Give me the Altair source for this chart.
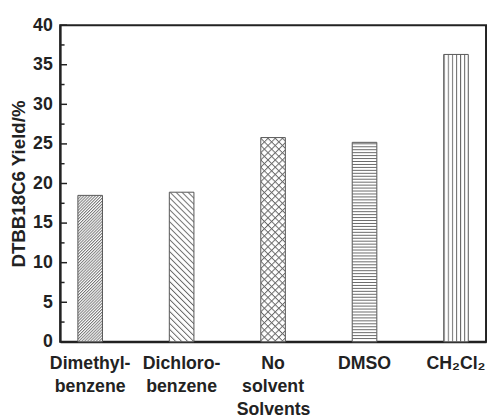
import urllib.parse
import altair as alt
import pandas as pd

# ---- data ----
categories = ["Dimethyl-\nbenzene", "Dichloro-\nbenzene", "No\nsolvent", "DMSO", "CH₂Cl₂"]
yields = [18.5, 18.9, 25.8, 25.2, 36.3]
y_major = [0, 5, 10, 15, 20, 25, 30, 35, 40]
y_minor = [2.5, 7.5, 12.5, 17.5, 22.5, 27.5, 32.5, 37.5]

# ---- hatch styles (SVG patterns used as image fills) ----
LINE = "#6a6a6a"


def hatch(inner, w, h, transform=""):
    t = f" patternTransform='{transform}'" if transform else ""
    svg = (
        "<svg xmlns='http://www.w3.org/2000/svg' width='100%' height='100%'>"
        f"<defs><pattern id='h' patternUnits='userSpaceOnUse' width='{w}' height='{h}'{t}>"
        f"{inner}</pattern></defs>"
        "<rect width='100%' height='100%' fill='white'/>"
        "<rect width='100%' height='100%' fill='url(#h)'/></svg>"
    )
    return "data:image/svg+xml;charset=utf-8," + urllib.parse.quote(svg)


def vline(x, h, sw):
    return f"<line x1='{x}' y1='-1' x2='{x}' y2='{h + 1}' stroke='{LINE}' stroke-width='{sw}'/>"


def hline(y, w, sw):
    return f"<line x1='-1' y1='{y}' x2='{w + 1}' y2='{y}' stroke='{LINE}' stroke-width='{sw}'/>"


PATTERNS = [
    hatch(vline(0.5, 2.1, 0.9), 2.1, 2.1, "rotate(45)"),
    hatch(vline(0.5, 4.3, 1), 4.3, 4.3, "rotate(-45)"),
    hatch(vline(0.5, 5.2, 1) + hline(0.5, 5.2, 1), 5.2, 5.2, "rotate(45)"),
    hatch(hline(1.5, 4, 1), 4, 3),
    hatch(vline(0.5, 4, 1), 4.17, 4),
]

df = pd.DataFrame({"solvent": categories, "yield": yields, "pattern": PATTERNS})
major_df = pd.DataFrame({"yield": y_major})
minor_df = pd.DataFrame({"yield": y_minor})

INK = "#222222"
FONT = "Liberation Sans"

x_enc = alt.X(
    "solvent:N",
    sort=categories,
    scale=alt.Scale(paddingInner=0.731, paddingOuter=0.194),
    axis=alt.Axis(
        title="Solvents",
        labelExpr="split(datum.label, '\\n')",
        labelAngle=0,
        ticks=False,
        tickSize=0,
        labelPadding=13,
        labelLineHeight=23,
        titlePadding=6,
    ),
)
y_scale = alt.Scale(domain=[0, 40], nice=False, zero=True)
y_axis = alt.Axis(
    values=y_major,
    title="DTBB18C6 Yield/%",
    ticks=False,
    tickSize=0,
    labelPadding=8,
    titlePadding=4,
    titleFontSize=19,
)
y_enc = alt.Y("yield:Q", scale=y_scale, axis=y_axis)

fills = alt.Chart(df).mark_image(aspect=False).encode(
    x=x_enc, y=y_enc, y2=alt.datum(0), url="pattern:N"
)
outlines = alt.Chart(df).mark_bar(fillOpacity=0, stroke="#555555", strokeWidth=1).encode(
    x=x_enc, y=y_enc
)
major_ticks = alt.Chart(major_df).mark_rule(color=INK, strokeWidth=1.5).encode(
    y=y_enc, x=alt.value(0), x2=alt.value(7)
)
minor_ticks = alt.Chart(minor_df).mark_rule(color=INK, strokeWidth=1.5).encode(
    y=y_enc, x=alt.value(0), x2=alt.value(4.5)
)

chart = (
    alt.layer(fills, outlines, major_ticks, minor_ticks)
    .properties(
        width=433,
        height=322,
        autosize="none",
        padding={"left": 53, "right": 1, "top": 14, "bottom": 75},
        background="white",
    )
    .configure_view(stroke=INK, strokeWidth=2)
    .configure_axis(
        domainColor=INK,
        domainWidth=2,
        grid=False,
        labelFont=FONT,
        labelFontWeight="bold",
        labelFontSize=18,
        labelColor=INK,
        titleFont=FONT,
        titleFontWeight="bold",
        titleFontSize=18,
        titleColor=INK,
    )
)

chart.save("out.html", embed_options={"renderer": "svg", "actions": False})
